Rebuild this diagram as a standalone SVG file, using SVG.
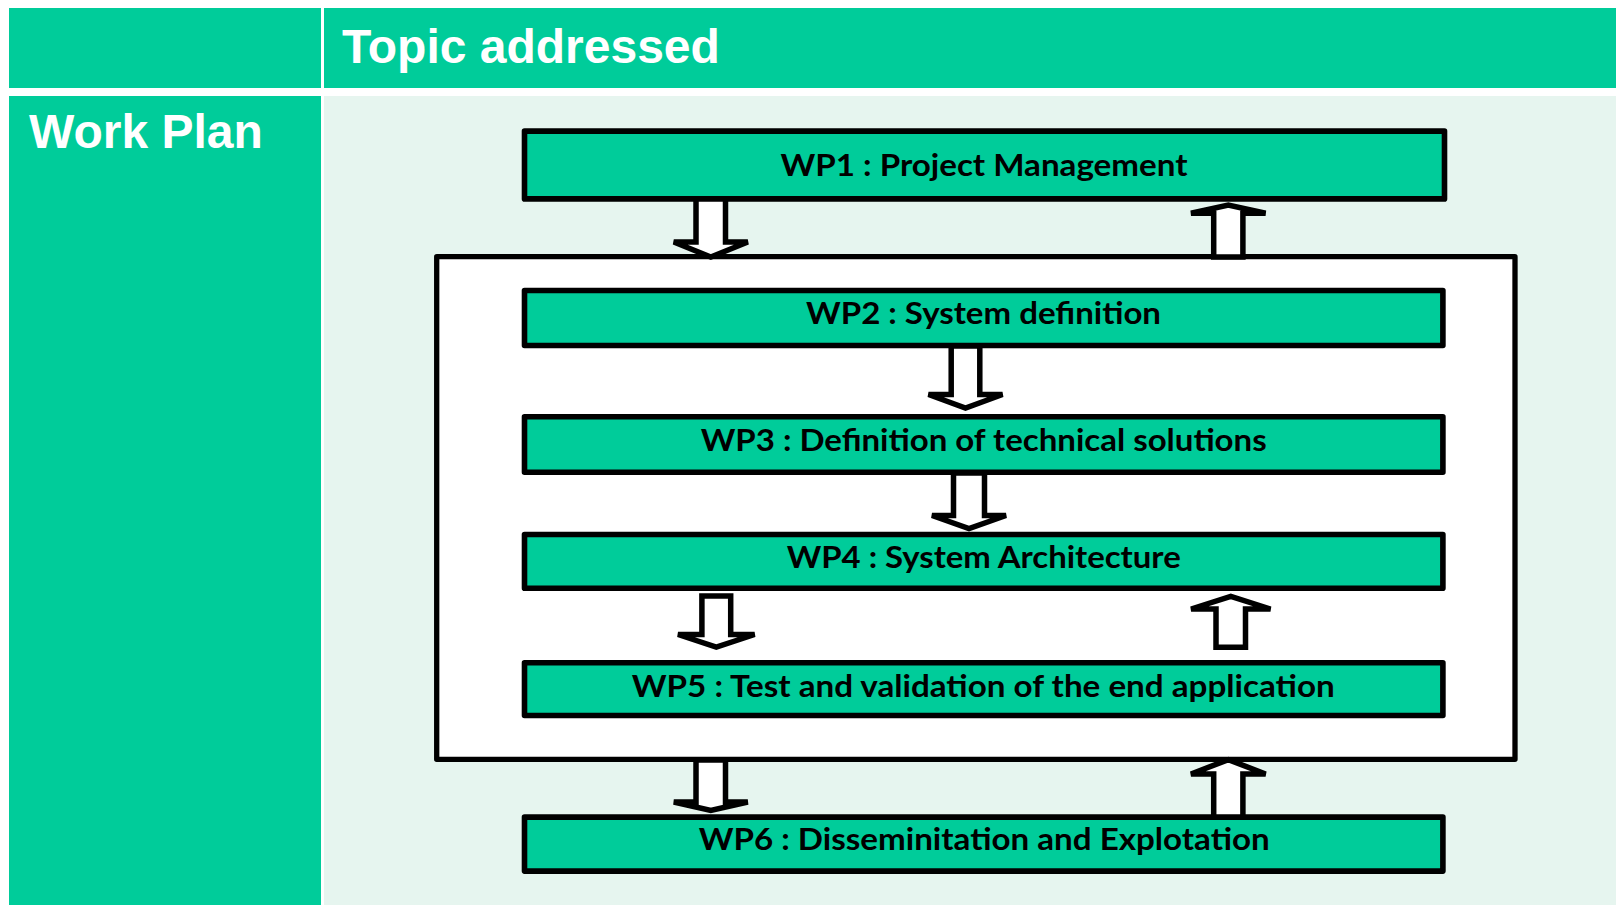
<svg xmlns="http://www.w3.org/2000/svg" width="1616" height="905" viewBox="0 0 1616 905">
<defs>
<style>
.cell{fill:#00CC9A}
.body{fill:#E6F5EF}
.head{font-family:"Liberation Sans",Arial,sans-serif;font-weight:bold;font-size:48px;fill:#FFFFFF}
.wp{fill:#00CC9A;stroke:#000000;stroke-width:5.6;stroke-linejoin:round}
.wpt{font-family:Lato,"Open Sans",sans-serif;font-weight:bold;font-size:30.5px;fill:#000000;text-anchor:middle}
.arr{fill:#FFFFFF;stroke:#000000;stroke-width:5.5;stroke-linejoin:miter}
.frame{fill:#FFFFFF;stroke:#000000;stroke-width:5.3;stroke-linejoin:round}
</style>
</defs>
<rect width="1616" height="905" fill="#FFFFFF"/>
<g id="header">
<rect class="cell" x="9" y="8" width="312" height="80"/>
<rect class="cell" x="324" y="8" width="1292" height="80"/>
<text class="head" x="342" y="63.3">Topic addressed</text>
</g>
<g id="leftcol">
<rect class="cell" x="9" y="96" width="312" height="809"/>
<text class="head" x="29" y="148.3">Work Plan</text>
</g>
<rect id="bodybg" class="body" x="324" y="96" width="1292" height="809"/>
<g id="container">
<rect class="frame" x="436.7" y="256.7" width="1078.3" height="502.6"/>
</g>
<g id="wp1">
<rect class="wp" x="524.5" y="131.1" width="920" height="67.8"/>
<text class="wpt" x="984" y="176" textLength="407" lengthAdjust="spacingAndGlyphs">WP1 : Project Management</text>
</g>
<g id="wp2">
<rect class="wp" x="524.5" y="290.5" width="918.4" height="55"/>
<text class="wpt" x="983.5" y="324" textLength="355" lengthAdjust="spacingAndGlyphs">WP2 : System definition</text>
</g>
<g id="wp3">
<rect class="wp" x="524.5" y="416.8" width="918.4" height="55.4"/>
<text class="wpt" x="983.7" y="450.7" textLength="566" lengthAdjust="spacingAndGlyphs">WP3 : Definition of technical solutions</text>
</g>
<g id="wp4">
<rect class="wp" x="524.5" y="534.5" width="918.4" height="53.7"/>
<text class="wpt" x="983.7" y="568" textLength="394" lengthAdjust="spacingAndGlyphs">WP4 : System Architecture</text>
</g>
<g id="wp5">
<rect class="wp" x="524.5" y="662.8" width="918.4" height="52.7"/>
<text class="wpt" x="983.2" y="696.7" textLength="703" lengthAdjust="spacingAndGlyphs">WP5 : Test and validation of the end application</text>
</g>
<g id="wp6">
<rect class="wp" x="524.5" y="817.1" width="918.4" height="54"/>
<text class="wpt" x="984.2" y="850" textLength="571" lengthAdjust="spacingAndGlyphs">WP6 : Disseminitation and Explotation</text>
</g>
<g id="connectors">
<polygon class="arr" points="696,199 725.5,199 725.5,242 747.8,242 710.8,257 673.8,242 696,242"/>
<polygon class="arr" points="1213.7,257 1242.9,257 1242.9,213.3 1265.6,213.3 1228.3,205 1191,213.3 1213.7,213.3"/>
<polygon class="arr" points="951.2,346 979.8,346 979.8,394.5 1002.5,394.5 965.5,408 928.5,394.5 951.2,394.5"/>
<polygon class="arr" points="953.5,473 984.5,473 984.5,515.5 1006,515.5 969,528.7 932,515.5 953.5,515.5"/>
<polygon class="arr" points="701.9,596 730.7,596 730.7,634.5 754.6,634.5 716.3,647 678,634.5 701.9,634.5"/>
<polygon class="arr" points="1216,647.3 1245.5,647.3 1245.5,609 1270.5,609 1230.8,596.3 1191.1,609 1216,609"/>
<polygon class="arr" points="696,760 725.5,760 725.5,802 747.8,802 710.8,810.5 673.8,802 696,802"/>
<polygon class="arr" points="1213.7,817 1242.9,817 1242.9,774 1265.6,774 1228.3,759.6 1191,774 1213.7,774"/>
</g>
</svg>
